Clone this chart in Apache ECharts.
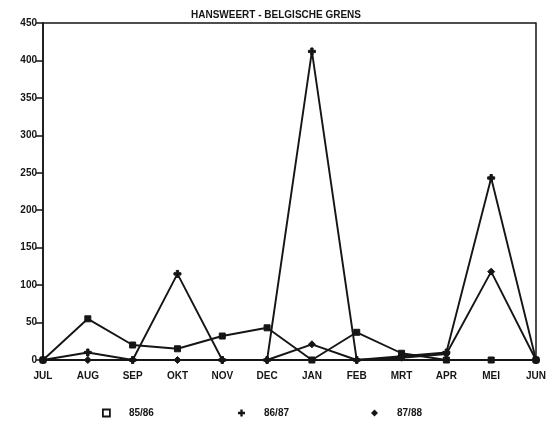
<!DOCTYPE html>
<html>
<head>
<meta charset="utf-8">
<script src="https://cdn.jsdelivr.net/npm/echarts@6/dist/echarts.min.js"></script>
<style>
  html, body { margin: 0; padding: 0; background: #fff; }
  #chart { width: 549px; height: 426px; }
</style>
</head>
<body>
<div id="chart"></div>
<script>
// months on the x axis
const months = ["JUL", "AUG", "SEP", "OKT", "NOV", "DEC", "JAN", "FEB", "MRT", "APR", "MEI", "JUN"];

// values
const s8586 = [0, 55, 20, 15, 32, 43, 0, 37, 9, 0, 0, 0];
const s8687 = [0, 10, 0, 115, 0, 0, 412, 0, 5, 10, 243, 0];
const s8788 = [0, 0, 0, 0, 0, 0, 21, 0, 3, 8, 118, 0];

const plus = "path://M2,0H4V2H6V4H4V6H2V4H0V2H2Z";
const ink = "#151515";
const font = "Liberation Sans";

const chart = echarts.init(document.getElementById("chart"));

function line(name, data, symbol, size) {
  return {
    name: name,
    type: "line",
    data: data,
    symbol: symbol,
    symbolSize: size,
    showAllSymbol: true,
    lineStyle: { color: ink, width: 1.9 },
    itemStyle: { color: ink, borderColor: ink },
    animation: false
  };
}

function legendAt(left, name, icon, hollow) {
  return {
    data: [{ name: name, icon: icon,
      itemStyle: hollow ? { color: "#fff", borderColor: ink, borderWidth: 1.8 } : undefined }],
    left: left,
    top: 403,
    itemWidth: 7,
    itemHeight: 7,
    textStyle: { color: ink, fontFamily: font, fontWeight: "bold", fontSize: 10, padding: [0, 0, 0, 14] }
  };
}

chart.setOption({
  backgroundColor: "#fff",
  title: {
    text: "HANSWEERT - BELGISCHE GRENS",
    left: 271,
    textAlign: "center",
    top: 5,
    textStyle: { color: ink, fontFamily: font, fontWeight: "bold", fontSize: 10 }
  },
  legend: [legendAt(97, "85/86", "rect", true), legendAt(233, "86/87", plus), legendAt(366, "87/88", "diamond")],
  grid: {
    left: 43, right: 9, top: 23, bottom: 66,
    show: true, borderColor: ink, borderWidth: 1.5
  },
  xAxis: {
    type: "category",
    data: months,
    boundaryGap: false,
    axisLine: { lineStyle: { color: ink, width: 1.8 } },
    axisTick: { show: false },
    axisLabel: { color: ink, fontFamily: font, fontWeight: "bold", fontSize: 10, margin: 11, interval: 0 }
  },
  yAxis: {
    type: "value",
    min: 0, max: 450, interval: 50,
    splitLine: { show: false },
    axisLine: { show: true, lineStyle: { color: ink, width: 1.5 } },
    axisTick: { show: true, length: 7, lineStyle: { color: ink, width: 1.5 } },
    axisLabel: { color: ink, fontFamily: font, fontWeight: "bold", fontSize: 10, margin: 6 }
  },
  series: [
    line("85/86", s8586, "rect", 6),
    line("86/87", s8687, plus, 7),
    line("87/88", s8788, "diamond", 7)
  ]
});
</script>
</body>
</html>
